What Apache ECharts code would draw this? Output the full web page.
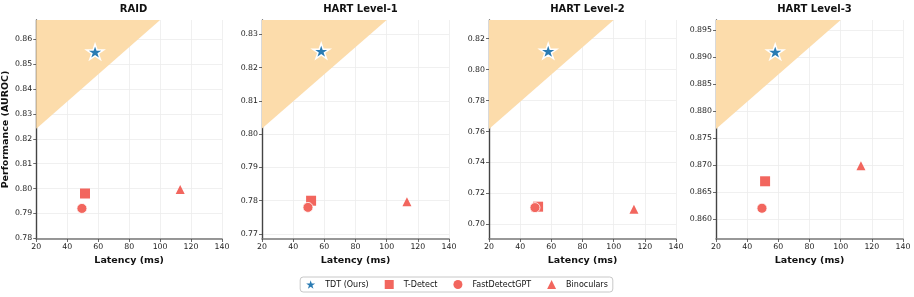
<!DOCTYPE html>
<html><head><meta charset="utf-8">
<script src="https://cdn.jsdelivr.net/npm/echarts@6/dist/echarts.min.js"></script>
<style>html,body{margin:0;padding:0;background:#fff}#c{width:914px;height:297px}</style>
</head><body><div id="c"></div>
<script>
// ---- data ----
const panelTitles = ['RAID', 'HART Level-1', 'HART Level-2', 'HART Level-3'];
const methods = ['TDT (Ours)', 'T-Detect', 'FastDetectGPT', 'Binoculars'];
const latency = [58, 51.5, 49.5, 113];
const aurocRAID = [0.855, 0.798, 0.792, 0.7996];
const aurocL1 = [0.825, 0.780, 0.778, 0.7797];
const aurocL2 = [0.812, 0.7114, 0.7108, 0.7098];
const aurocL3 = [0.891, 0.867, 0.862, 0.8699];
const aurocAll = [aurocRAID, aurocL1, aurocL2, aurocL3];
const yMin = [0.7797, 0.7685, 0.6905, 0.8563];
const yMax = [0.8678, 0.8343, 0.8321, 0.8969];
const yTicks = [
  [0.78, 0.79, 0.80, 0.81, 0.82, 0.83, 0.84, 0.85, 0.86],
  [0.77, 0.78, 0.79, 0.80, 0.81, 0.82, 0.83],
  [0.70, 0.72, 0.74, 0.76, 0.78, 0.80, 0.82],
  [0.860, 0.865, 0.870, 0.875, 0.880, 0.885, 0.890, 0.895]
];
const yDecimals = [2, 2, 2, 3];
const xTicks = [20, 40, 60, 80, 100, 120, 140];
const regionStartLatency = 20;
const regionEndLatency = 100;
const regionStartAuroc = [0.8241, 0.8017, 0.7616, 0.8767];

// ---- styles ----
const FONT = 'DejaVu Sans';
const gridLefts = [35, 262, 489, 716];
const gridW = 187, gridTop = 20, gridH = 219;
const blue = '#2a7bb3', red = '#f2665e', fillC = '#fcdcab';
const starPath = 'path://M50 0 L61.23 34.55 L97.55 34.55 L68.16 55.9 L79.39 90.45 L50 69.1 L20.61 90.45 L31.84 55.9 L2.45 34.55 L38.77 34.55 Z';
const symbols = [starPath, 'rect', 'circle', 'triangle'];
const sizes = [[17, 16], 10, 10, 9];
const colors = [blue, red, red, red];

const grids = [], xAxes = [], yAxes = [], titles = [], series = [];
panelTitles.forEach((t, i) => {
  grids.push({left: gridLefts[i], top: gridTop, width: gridW, height: gridH});
  titles.push({
    text: t, left: gridLefts[i] + gridW / 2, top: -1, textAlign: 'center',
    textStyle: {fontFamily: FONT, fontSize: 10, fontWeight: 'bold', color: '#111'}
  });
  xAxes.push({
    gridIndex: i, type: 'value', min: xTicks[0], max: xTicks[xTicks.length - 1], interval: xTicks[1] - xTicks[0],
    name: 'Latency (ms)', nameLocation: 'middle', nameGap: 14,
    nameTextStyle: {fontFamily: FONT, fontSize: 9.5, fontWeight: 'bold', color: '#111'},
    axisLine: {show: true, onZero: false, lineStyle: {color: '#777', width: 1.6}},
    axisTick: {show: true, length: 3, lineStyle: {color: '#444', width: 0.8}},
    axisLabel: {fontFamily: FONT, fontSize: 7.8, color: '#222', margin: 4},
    splitLine: {show: true, lineStyle: {color: '#ececec', width: 0.8}}
  });
  yAxes.push({
    gridIndex: i, type: 'value', min: yMin[i], max: yMax[i],
    name: i === 0 ? 'Performance (AUROC)' : '', nameLocation: 'middle', nameGap: 22,
    nameTextStyle: {fontFamily: FONT, fontSize: 9.5, fontWeight: 'bold', color: '#111'},
    axisLine: {show: true, onZero: false, lineStyle: {color: '#444', width: 1.4}},
    axisTick: {show: true, length: 3, customValues: yTicks[i], lineStyle: {color: '#444', width: 0.8}},
    axisLabel: {
      fontFamily: FONT, fontSize: 7.8, color: '#222', margin: 4, customValues: yTicks[i],
      formatter: v => v.toFixed(yDecimals[i])
    },
    splitLine: {show: true, customValues: yTicks[i], lineStyle: {color: '#ececec', width: 0.8}}
  });
  series.push({
    type: 'line', xAxisIndex: i, yAxisIndex: i, silent: true, symbol: 'none', z: 1,
    data: [[regionStartLatency, regionStartAuroc[i]], [regionEndLatency, yMax[i]]],
    lineStyle: {width: 0, opacity: 0},
    areaStyle: {origin: 'end', color: fillC, opacity: 1}
  });
  methods.forEach((m, k) => {
    series.push({
      type: 'scatter', name: m, xAxisIndex: i, yAxisIndex: i, z: k === 0 ? 5 : 3,
      symbol: symbols[k], symbolSize: sizes[k], symbolKeepAspect: true,
      data: [[latency[k], aurocAll[i][k]]],
      itemStyle: {color: colors[k], opacity: 1, borderColor: '#fff', borderWidth: k === 0 ? 1.5 : (k === 2 ? 0.8 : 0)}
    });
  });
});

const chart = echarts.init(document.getElementById('c'), null, {renderer: 'canvas'});
chart.setOption({
  animation: false,
  backgroundColor: '#fff',
  title: titles,
  grid: grids, xAxis: xAxes, yAxis: yAxes,
  legend: {
    data: methods.map((m, k) => ({
      name: m, icon: symbols[k],
      itemStyle: {color: colors[k], borderWidth: 0}
    })),
    left: 'center', top: 277,
    itemWidth: 9, itemHeight: 9, itemGap: 16,
    padding: [3, 5, 3, 6], borderColor: '#c8c8c8', borderWidth: 1, borderRadius: 3,
    textStyle: {fontFamily: FONT, fontSize: 8, color: '#111', padding: [0, 0, 0, 5]}
  },
  series: series
});
</script></body></html>
